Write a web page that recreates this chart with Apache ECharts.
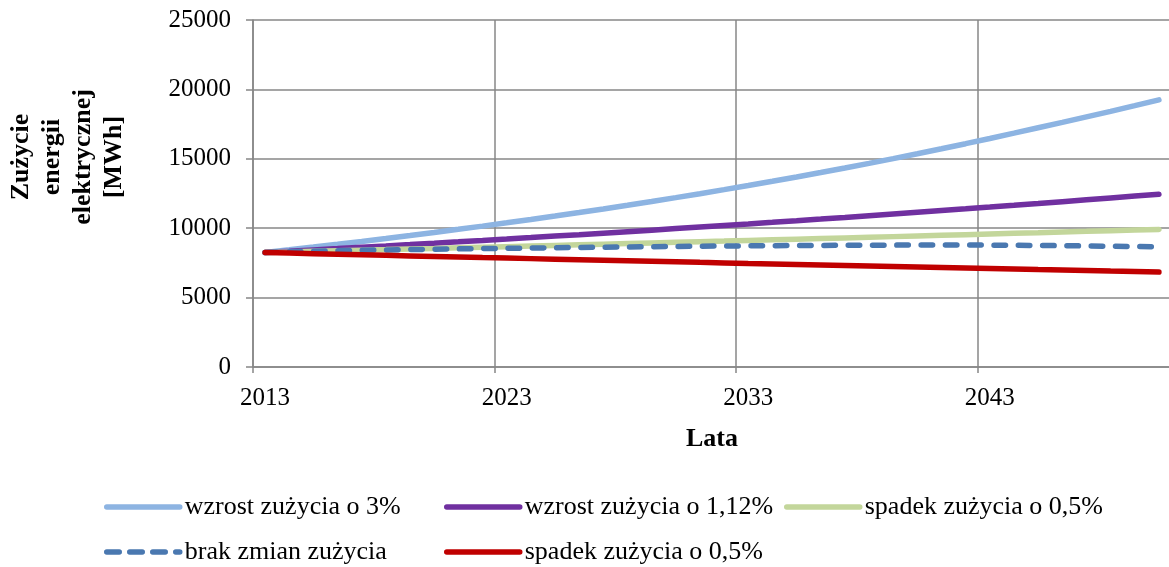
<!DOCTYPE html>
<html>
<head>
<meta charset="utf-8">
<script src="https://cdn.jsdelivr.net/npm/echarts@6/dist/echarts.min.js"></script>
<style>
  html, body { margin: 0; padding: 0; background: #fff; }
  #chart { width: 1169px; height: 567px; }
</style>
</head>
<body>
<div id="chart"></div>
<script>
// lata 2013..2050
var years = [];
for (var y = 2013; y <= 2050; y++) years.push(String(y));

var seriesNames = [
  "wzrost zużycia o 3%",
  "wzrost zużycia o 1,12%",
  "spadek zużycia o 0,5%",
  "brak zmian zużycia",
  "spadek zużycia o 0,5% "
];

// [MWh]
var wzrost3 = [8250, 8442, 8639, 8840, 9046, 9257, 9473, 9693, 9919, 10150,
  10387, 10629, 10876, 11130, 11389, 11654, 11926, 12204, 12488, 12779,
  13077, 13381, 13693, 14012, 14339, 14673, 15015, 15364, 15722, 16089,
  16463, 16847, 17239, 17620, 18020, 18420, 18830, 19250];
var wzrost112 = [8250, 8342, 8436, 8530, 8626, 8722, 8820, 8919, 9019, 9120,
  9222, 9325, 9430, 9535, 9642, 9750, 9859, 9970, 10081, 10194,
  10308, 10424, 10541, 10659, 10778, 10899, 11021, 11144, 11269, 11395,
  11523, 11652, 11782, 11914, 12048, 12183, 12319, 12445];
var zielona = [8250, 8291, 8333, 8374, 8416, 8458, 8501, 8543, 8586, 8629,
  8672, 8715, 8759, 8803, 8847, 8891, 8936, 8980, 9025, 9070,
  9116, 9161, 9207, 9253, 9299, 9346, 9393, 9440, 9487, 9534,
  9582, 9630, 9678, 9727, 9775, 9824, 9873, 9915];
var brakZmian = [8250, 8300, 8345, 8380, 8410, 8435, 8460, 8485, 8510, 8530,
  8550, 8570, 8590, 8610, 8630, 8650, 8665, 8685, 8700, 8715,
  8730, 8740, 8750, 8760, 8770, 8775, 8780, 8785, 8785, 8785,
  8780, 8770, 8755, 8740, 8720, 8700, 8680, 8655];
var spadek05 = [8250, 8209, 8168, 8127, 8086, 8046, 8006, 7966, 7926, 7886,
  7847, 7808, 7769, 7730, 7691, 7653, 7614, 7576, 7538, 7501,
  7463, 7426, 7389, 7352, 7315, 7278, 7242, 7206, 7170, 7134,
  7098, 7063, 7027, 6992, 6957, 6922, 6888, 6840];

var colors = ["#8DB4E2", "#7030A0", "#C3D69B", "#4A78B0", "#C00000"];
var font = "'Liberation Serif', 'Times New Roman', serif";
var gridColor = "#878787";

function legendAt(name, left, top, dash) {
  return {
    data: [name],
    left: left,
    top: top,
    padding: 0,
    itemWidth: 73,
    itemHeight: 14,
    itemGap: 0,
    itemStyle: { opacity: 0, borderWidth: 0 },
    lineStyle: { width: 5.5, cap: "round", type: dash || "solid" },
    textStyle: { fontFamily: font, fontSize: 26, color: "#000", lineHeight: 26 }
  };
}

function lineSeries(i, data, dashed) {
  return {
    name: seriesNames[i],
    type: "line",
    data: data,
    symbol: "none",
    smooth: false,
    animation: false,
    lineStyle: {
      color: colors[i],
      width: 5.5,
      type: dashed ? [11.5, 12.8] : "solid",
      cap: "round"
    },
    itemStyle: { color: colors[i] }
  };
}

var option = {
  backgroundColor: "#fff",
  animation: false,
  color: colors,
  // plot runs just past the right edge, as in the original crop
  grid: { left: 253, width: 918, top: 20, bottom: 200, outerBoundsMode: "none", containLabel: false },
  legend: [
    legendAt(seriesNames[0], 104, 494),
    legendAt(seriesNames[1], 444, 494),
    legendAt(seriesNames[2], 784, 494),
    legendAt(seriesNames[3], 104, 539, [12.5, 10.5]),
    legendAt(seriesNames[4], 444, 539)
  ],
  xAxis: {
    type: "category",
    data: years,
    boundaryGap: true,
    name: "Lata",
    nameLocation: "middle",
    nameGap: 59,
    nameTextStyle: { fontFamily: font, fontSize: 26, fontWeight: "bold", color: "#000" },
    axisLine: { lineStyle: { color: gridColor, width: 1.5 } },
    axisTick: { show: true, interval: 9, length: 6, lineStyle: { color: gridColor, width: 1.5 } },
    axisLabel: { interval: 9, margin: 19, fontFamily: font, fontSize: 25, color: "#000" },
    splitLine: { show: true, interval: 9, lineStyle: { color: gridColor, width: 1.5 } }
  },
  yAxis: {
    type: "value",
    min: 0,
    max: 25000,
    interval: 5000,
    axisLine: { show: true, lineStyle: { color: gridColor, width: 1.5 } },
    axisTick: { show: true, length: 7, lineStyle: { color: gridColor, width: 1.5 } },
    axisLabel: {
      margin: 22, fontFamily: font, fontSize: 25, color: "#000",
      formatter: function (v) { return String(v); }
    },
    splitLine: { show: true, lineStyle: { color: gridColor, width: 1.5 } }
  },
  graphic: [{
    type: "text",
    x: 68,
    y: 157,
    rotation: Math.PI / 2,
    style: {
      text: "Zużycie\nenergii\nelektrycznej\n[MWh]",
      font: "bold 26px " + font,
      fill: "#000",
      align: "center",
      verticalAlign: "middle",
      lineHeight: 31
    }
  }],
  series: [
    lineSeries(0, wzrost3, false),
    lineSeries(1, wzrost112, false),
    lineSeries(2, zielona, false),
    lineSeries(3, brakZmian, true),
    lineSeries(4, spadek05, false)
  ]
};

var chart = echarts.init(document.getElementById("chart"), null, { renderer: "canvas" });
chart.setOption(option);
</script>
</body>
</html>
